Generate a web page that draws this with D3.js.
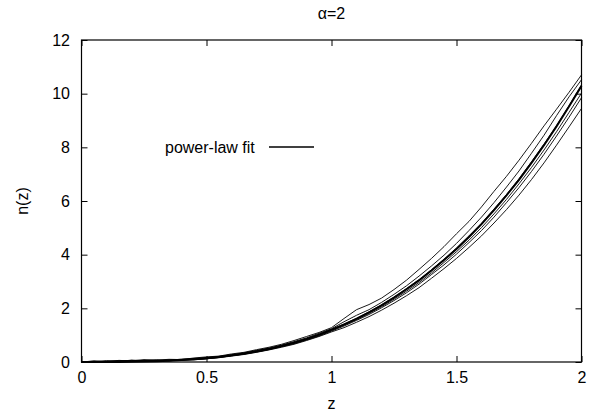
<!DOCTYPE html>
<html>
<head>
<meta charset="utf-8">
<script src="https://cdn.jsdelivr.net/npm/d3@7"></script>
<style>
  body { margin: 0; background: #fff; }
  text { font-family: "Liberation Sans", Arial, sans-serif; fill: #000; }
</style>
</head>
<body>
<div id="chart"></div>
<script>
// z grid the curves were read on
var zValues = [0, 0.05, 0.1, 0.15, 0.2, 0.25, 0.3, 0.35, 0.4, 0.45, 0.5, 0.55, 0.6, 0.65, 0.7, 0.75, 0.8, 0.85, 0.9, 0.95,
               1, 1.05, 1.1, 1.15, 1.2, 1.25, 1.3, 1.35, 1.4, 1.45, 1.5, 1.55, 1.6, 1.65, 1.7, 1.75, 1.8, 1.85, 1.9, 1.95, 2];

// power-law fit (thick line)
var fitValues = [0, 0, 0.001, 0.004, 0.008, 0.017, 0.029, 0.047, 0.070, 0.101, 0.140, 0.188, 0.248, 0.317, 0.40, 0.49, 0.60, 0.72, 0.86, 1.02,
                 1.20, 1.39, 1.61, 1.85, 2.11, 2.40, 2.71, 3.04, 3.41, 3.80, 4.21, 4.66, 5.14, 5.66, 6.21, 6.79, 7.42, 8.08, 8.78, 9.52, 10.29];

// individual runs (thin noisy lines)
var run1 = [0, 0.03, 0.02, 0.06, 0.04, 0.09, 0.07, 0.10, 0.09, 0.15, 0.19, 0.22, 0.30, 0.36, 0.46, 0.55, 0.66, 0.80, 0.95, 1.10,
            1.28, 1.62, 1.95, 2.14, 2.38, 2.70, 3.05, 3.45, 3.86, 4.30, 4.78, 5.24, 5.78, 6.36, 6.92, 7.52, 8.15, 8.80, 9.42, 10.05, 10.70];
var run2 = [0, 0.01, 0.05, 0.02, 0.07, 0.05, 0.08, 0.06, 0.11, 0.13, 0.17, 0.21, 0.27, 0.34, 0.43, 0.52, 0.63, 0.76, 0.90, 1.07,
            1.24, 1.50, 1.74, 1.95, 2.22, 2.52, 2.84, 3.20, 3.58, 3.98, 4.42, 4.90, 5.40, 5.94, 6.52, 7.12, 7.78, 8.45, 9.18, 9.88, 10.52];
var run3 = [0, 0.02, 0.01, 0.04, 0.03, 0.05, 0.04, 0.07, 0.08, 0.11, 0.15, 0.19, 0.25, 0.32, 0.41, 0.50, 0.61, 0.73, 0.87, 1.03,
            1.21, 1.42, 1.63, 1.87, 2.13, 2.42, 2.74, 3.07, 3.44, 3.83, 4.25, 4.70, 5.17, 5.70, 6.24, 6.83, 7.46, 8.12, 8.80, 9.55, 10.32];
var run4 = [0, 0, 0.03, 0.01, 0.05, 0.02, 0.06, 0.05, 0.07, 0.09, 0.13, 0.18, 0.24, 0.30, 0.38, 0.47, 0.58, 0.70, 0.84, 0.99,
            1.17, 1.38, 1.58, 1.81, 2.06, 2.34, 2.64, 2.96, 3.32, 3.71, 4.11, 4.54, 5.01, 5.52, 6.06, 6.64, 7.25, 7.90, 8.58, 9.30, 10.02];
var run5 = [0, 0.04, 0.01, 0.02, 0.06, 0.03, 0.05, 0.08, 0.06, 0.10, 0.12, 0.17, 0.23, 0.29, 0.37, 0.46, 0.57, 0.68, 0.82, 0.97,
            1.15, 1.34, 1.55, 1.77, 2.02, 2.29, 2.58, 2.90, 3.26, 3.62, 4.02, 4.45, 4.90, 5.40, 5.94, 6.50, 7.10, 7.74, 8.42, 9.12, 9.85];
var run6 = [0, 0.01, 0.02, 0.05, 0.02, 0.04, 0.06, 0.04, 0.09, 0.08, 0.12, 0.16, 0.22, 0.28, 0.36, 0.45, 0.55, 0.66, 0.80, 0.95,
            1.12, 1.28, 1.48, 1.69, 1.93, 2.19, 2.47, 2.77, 3.12, 3.48, 3.86, 4.27, 4.70, 5.18, 5.68, 6.22, 6.80, 7.42, 8.08, 8.76, 9.45];
var runs = [run1, run2, run3, run4, run5, run6];

var xTicks = [0, 0.5, 1, 1.5, 2];
var yTicks = [0, 2, 4, 6, 8, 10, 12];

var titleText = "\u03b1=2";
var xLabel = "z";
var yLabel = "n(z)";
var legendLabel = "power-law fit";

var margin = { top: 40, right: 15.5, bottom: 52, left: 81.5 },
    width = 597 - margin.left - margin.right,
    height = 414 - margin.top - margin.bottom;

var svg = d3.select("#chart").append("svg")
    .attr("width", 597)
    .attr("height", 414)
  .append("g")
    .attr("transform", "translate(" + margin.left + "," + margin.top + ")");

var x = d3.scaleLinear().domain([0, 2]).range([0, width]);
var y = d3.scaleLinear().domain([0, 12]).range([height, 0]);

var line = d3.line()
    .x(function(d) { return x(d[0]); })
    .y(function(d) { return y(d[1]); });

function pairs(vals) {
  return vals.map(function(v, i) { return [zValues[i], v]; });
}

// thin runs
svg.selectAll(".run")
    .data(runs)
  .enter().append("path")
    .attr("class", "run")
    .attr("d", function(d) { return line(pairs(d)); })
    .attr("fill", "none")
    .attr("stroke", "#000")
    .attr("stroke-width", 0.9);

// fit
svg.append("path")
    .attr("d", line(pairs(fitValues)))
    .attr("fill", "none")
    .attr("stroke", "#000")
    .attr("stroke-width", 2);

// axes, ticks pointing in, mirrored on top/right
var fontSize = "16px";
var gx = svg.append("g")
    .attr("transform", "translate(0," + height + ")")
    .call(d3.axisBottom(x).tickValues(xTicks).tickFormat(d3.format("~g")).tickSize(-6).tickSizeOuter(0).tickPadding(10));
var gy = svg.append("g")
    .call(d3.axisLeft(y).tickValues(yTicks).tickFormat(d3.format("~g")).tickSize(-6).tickSizeOuter(0).tickPadding(11.5));
var gt = svg.append("g")
    .call(d3.axisTop(x).tickValues(xTicks).tickFormat("").tickSize(-6).tickSizeOuter(0));
var gr = svg.append("g")
    .attr("transform", "translate(" + width + ",0)")
    .call(d3.axisRight(y).tickValues(yTicks).tickFormat("").tickSize(-6).tickSizeOuter(0));

[gx, gy, gt, gr].forEach(function(g) {
  g.select(".domain").remove();
  g.selectAll("line").attr("stroke", "#000");
  g.selectAll("text").style("font-size", fontSize).style("font-family", "Liberation Sans, Arial, sans-serif").attr("fill", "#000");
});

// frame
svg.append("rect")
    .attr("x", 0)
    .attr("y", 0)
    .attr("width", width)
    .attr("height", height)
    .attr("fill", "none")
    .attr("stroke", "#000")
    .attr("stroke-width", 1.2);

// title + axis labels
svg.append("text")
    .attr("x", width / 2)
    .attr("y", -21)
    .attr("text-anchor", "middle")
    .style("font-size", fontSize)
    .text(titleText);

svg.append("text")
    .attr("x", width / 2)
    .attr("y", height + 47)
    .attr("text-anchor", "middle")
    .style("font-size", fontSize)
    .text(xLabel);

svg.append("text")
    .attr("transform", "translate(" + (28 - margin.left) + "," + (height / 2) + ") rotate(-90)")
    .attr("text-anchor", "middle")
    .style("font-size", fontSize)
    .text(yLabel);

// key
svg.append("text")
    .attr("x", 165 - margin.left)
    .attr("y", 153 - margin.top)
    .style("font-size", fontSize)
    .text(legendLabel);
svg.append("line")
    .attr("x1", 269 - margin.left)
    .attr("x2", 314 - margin.left)
    .attr("y1", 147 - margin.top)
    .attr("y2", 147 - margin.top)
    .attr("stroke", "#000")
    .attr("stroke-width", 1.5);
</script>
</body>
</html>
